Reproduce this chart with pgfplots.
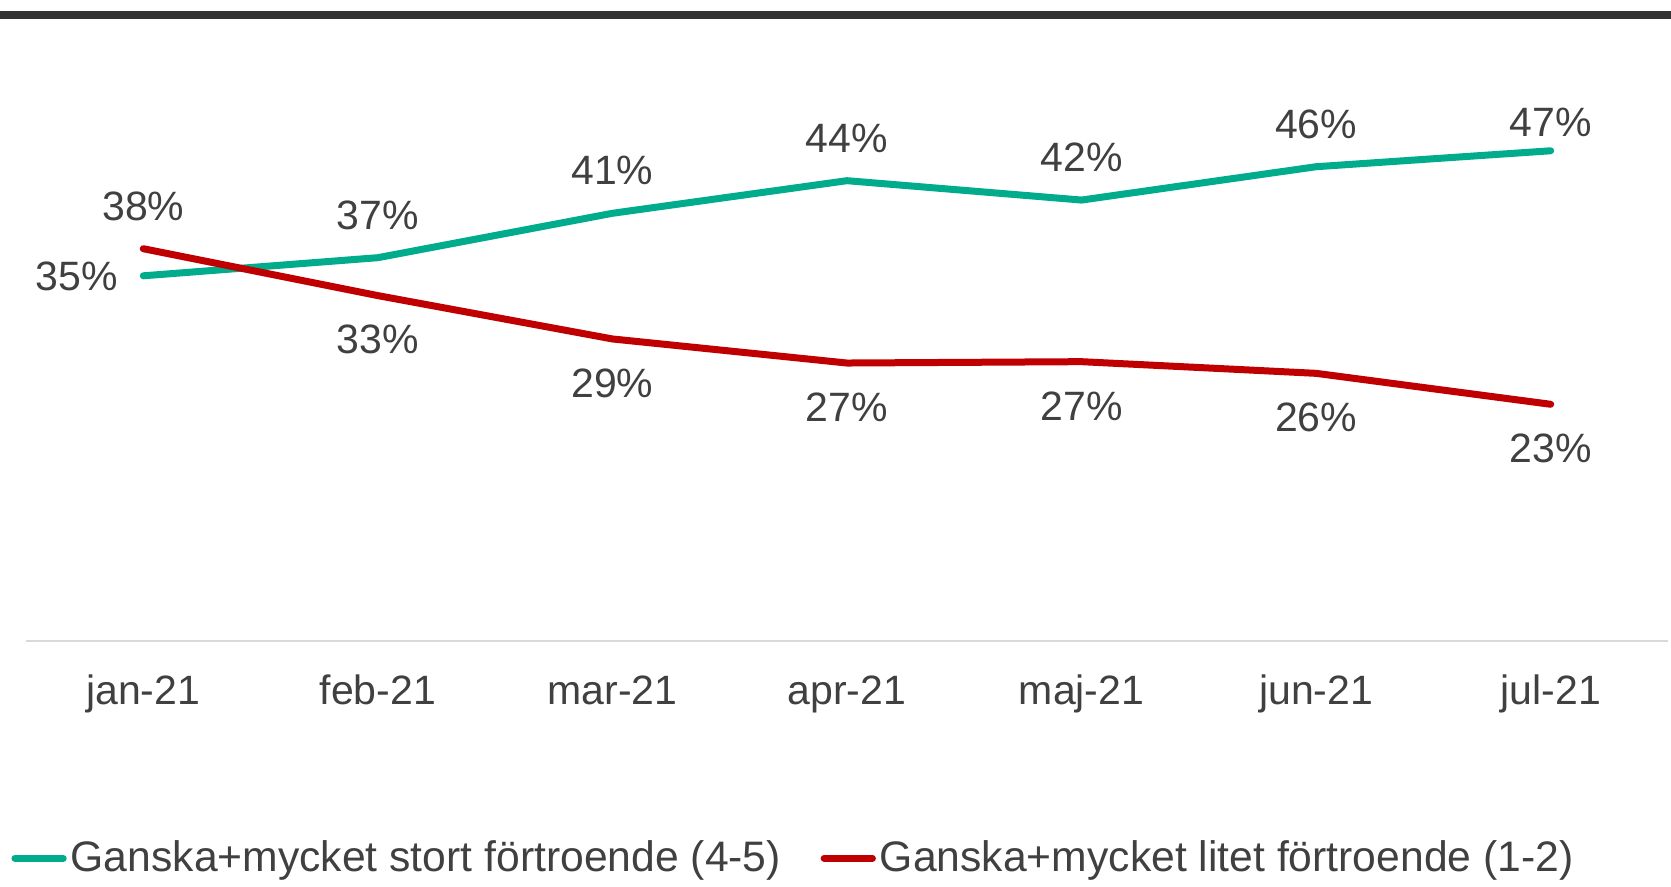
\documentclass[border=0pt]{standalone}
\usepackage{pgfplots}
\usepackage{pgfplotstable}
\usepackage{fontspec}
\setmainfont{Liberation Sans}
\pgfplotsset{compat=1.18}

\definecolor{txt}{HTML}{404040}
\definecolor{grn}{HTML}{00AC8C}
\definecolor{rd}{HTML}{C00000}
\definecolor{axgray}{HTML}{D9D9D9}
\definecolor{bar}{HTML}{333333}

% month index, value, rounded label
\pgfplotstableread{
x y lbl
0 35.0 35
1 36.74 37
2 41.0 41
3 44.13 44
4 42.27 42
5 45.47 46
6 47.0 47
}\stort

\pgfplotstableread{
x y lbl
0 37.6 38
1 33.1 33
2 28.94 29
3 26.63 27
4 26.76 27
5 25.64 26
6 22.67 23
}\litet

\pgfplotsset{
  lbls/.style={
    point meta=explicit symbolic,
    nodes near coords={\pgfplotspointmeta\%},
    every node near coord/.append style={font=\fontsize{12.3}{14}\selectfont,
      text=txt, inner sep=0pt},
  },
}

\begin{document}
\begin{tikzpicture}
  \useasboundingbox (0pt,0pt) rectangle (501.3pt,265.8pt);
  % dark bar at the top
  \fill[bar] (0pt,260.1pt) rectangle (501.3pt,262.5pt);

  \begin{axis}[
    at={(7.8pt,73.65pt)}, anchor=south west,
    scale only axis, width=492.6pt, height=156.3pt,
    xmin=-0.5, xmax=6.5, ymin=0, ymax=50,
    axis x line*=bottom, axis y line=none,
    x axis line style={draw=axgray, line width=0.6pt, -},
    xtick={0,...,6},
    xticklabels={jan-21,feb-21,mar-21,apr-21,maj-21,jun-21,jul-21},
    xtick style={draw=none},
    xticklabel style={anchor=base, yshift=-19.2pt, inner sep=0pt,
      font=\fontsize{12.3}{14}\selectfont, text=txt},
    clip=false,
    legend columns=2,
    legend style={at={(-0.0093,-0.418)}, anchor=west, draw=none, fill=none,
      inner sep=0pt, font=\fontsize{12.8}{15}\selectfont, text=txt,
      nodes={inner sep=1.2pt},
      /tikz/every even column/.append style={column sep=10.7pt}},
    legend image code/.code={\draw[#1] (1.05pt,0pt) -- (15.55pt,0pt);},
  ]
    \addlegendimage{grn, line width=2.1pt, line cap=round}
    \addlegendentry{Ganska+mycket stort förtroende (4-5)}
    \addlegendimage{rd, line width=2.1pt, line cap=round}
    \addlegendentry{Ganska+mycket litet förtroende (1-2)}

    \addplot[grn, line width=2.1pt, line cap=round, line join=round, mark=none,
      lbls, forget plot,
      coordinate style/.condition={x<0.5}{anchor=east, xshift=-6.6pt, yshift=-0.3pt},
      coordinate style/.condition={x>0.5 && x<5.5}{anchor=base, yshift=8.6pt},
      coordinate style/.condition={x>5.5}{anchor=base, yshift=4.2pt},
    ] table[x=x, y=y, meta=lbl] {\stort};
    \addplot[rd, line width=2.1pt, line cap=round, line join=round, mark=none,
      lbls, forget plot,
      coordinate style/.condition={x<0.5}{anchor=base, yshift=8.6pt},
      coordinate style/.condition={x>0.5}{anchor=base, yshift=-17.5pt},
    ] table[x=x, y=y, meta=lbl] {\litet};
  \end{axis}
\end{tikzpicture}
\end{document}
